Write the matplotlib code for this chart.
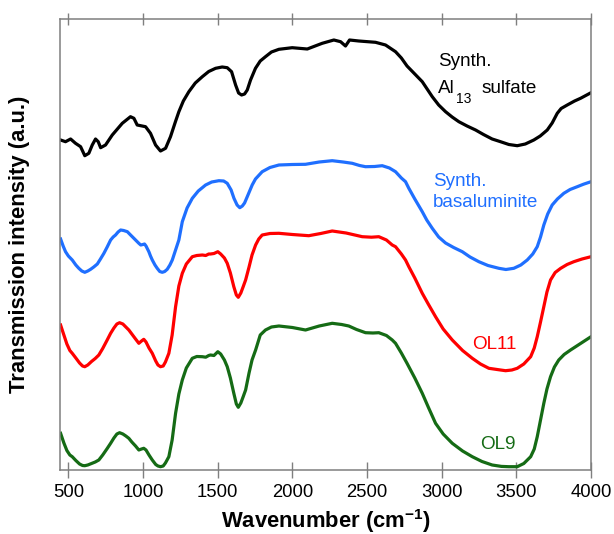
import matplotlib
matplotlib.use("Agg")
import matplotlib.pyplot as plt

plt.rcParams['font.family'] = ['Liberation Sans', 'DejaVu Sans']
plt.rcParams['mathtext.fontset'] = 'custom'
plt.rcParams['mathtext.rm'] = 'Liberation Sans'
plt.rcParams['mathtext.bf'] = 'Liberation Sans:bold'

# ---- data (wavenumber, cm-1 ; transmission, arbitrary units with offsets) ----
al13_wn = [448, 481, 515, 548, 582, 610, 637, 660, 682, 700, 716, 749, 794, 861, 916,
           939, 961, 1017, 1050, 1084, 1117, 1151, 1184, 1217, 1240, 1270, 1307, 1350,
           1397, 1440, 1486, 1530, 1564, 1593, 1620, 1640, 1660, 1680, 1698, 1720, 1753,
           1785, 1820, 1860, 1910, 1999, 2100, 2200, 2278, 2323, 2356, 2383, 2445, 2557,
           2624, 2691, 2730, 2768, 2820, 2870, 2937, 2980, 3026, 3070, 3115, 3170, 3227,
           3280, 3338, 3394, 3450, 3506, 3560, 3617, 3660, 3707, 3740, 3774, 3800, 3841,
           3890, 3930, 4000]
al13_y = [330, 328.3, 331, 326.7, 323.3, 314.3, 316.7, 325, 331, 328.3, 322.3, 325, 335,
          346.7, 353.3, 351.7, 345, 343.3, 336.7, 325, 319, 321.7, 333.3, 348.3, 358.3,
          369, 378.3, 387, 393.3, 398.5, 401.7, 403, 402.3, 398.3, 385, 377, 375, 376,
          380, 390, 401.7, 409, 413.3, 418, 420.7, 422.3, 421, 426.7, 430, 428.3, 424,
          430, 429, 427.7, 425, 418.3, 412, 404, 396, 388.3, 373.3, 365, 358.3, 353,
          348.3, 344, 340, 335.5, 331, 328.3, 325.5, 324.3, 326, 330, 334, 340, 347,
          356.7, 361.5, 365, 369, 371.7, 377.3]

basal_wn = [448, 465, 481, 500, 526, 550, 570, 590, 610, 630, 649, 670, 694, 715, 738,
            760, 783, 800, 816, 833, 850, 870, 895, 910, 928, 950, 972, 985, 999, 1010,
            1020, 1039, 1050, 1062, 1080, 1095, 1112, 1129, 1145, 1162, 1180, 1196, 1218,
            1240, 1263, 1295, 1330, 1370, 1419, 1460, 1508, 1540, 1564, 1590, 1609, 1630,
            1648, 1665, 1680, 1698, 1731, 1753, 1798, 1850, 1910, 2000, 2088, 2180, 2267,
            2340, 2401, 2450, 2490, 2550, 2602, 2650, 2691, 2730, 2758, 2780, 2820, 2870,
            2900, 2937, 2980, 3026, 3080, 3138, 3190, 3249, 3310, 3383, 3430, 3483, 3530,
            3573, 3610, 3640, 3662, 3684, 3710, 3740, 3775, 3818, 3860, 3908, 3950, 4000]
basal_y = [231, 224, 218.3, 214, 210, 205, 201.7, 199, 197.7, 199, 200.7, 203, 206, 211,
           216.7, 223, 230, 233, 235, 238, 240, 239.5, 238.3, 236, 233.3, 230, 226.7,
           225, 225.5, 226, 224, 218.3, 214, 210, 205, 201.7, 198.5, 197.7, 198.5, 200.7,
           205, 210, 220, 230, 248.3, 262, 271.7, 279, 285, 288, 289.3, 289, 286.7, 280,
           271.7, 265, 262.3, 264, 267, 273.3, 285, 291, 298.3, 302.5, 305, 305.5, 305.7,
           308, 309.3, 308, 306.7, 304.5, 303.3, 303.5, 304.3, 302, 298.3, 292, 288.3,
           281.7, 271, 258.3, 250, 241.7, 233, 227, 222.5, 218.3, 213, 208.3, 204.5,
           201.7, 200.5, 201.7, 205, 210, 216, 223.3, 233, 245, 256, 265, 271, 276.7,
           280.5, 283.3, 285.8, 288.3]

ol11_wn = [448, 470, 490, 510, 526, 550, 575, 595, 610, 630, 655, 680, 704, 730, 760, 783,
           805, 825, 843, 865, 885, 905, 925, 950, 972, 990, 1005, 1020, 1040, 1062, 1085,
           1100, 1117, 1135, 1150, 1173, 1195, 1218, 1240, 1263, 1290, 1330, 1360, 1397,
           1420, 1440, 1452, 1475, 1501, 1520, 1545, 1564, 1585, 1608, 1625, 1638, 1655,
           1670, 1687, 1710, 1730, 1754, 1775, 1798, 1850, 1910, 2000, 2110, 2190, 2267,
           2360, 2468, 2530, 2579, 2630, 2669, 2691, 2730, 2758, 2780, 2820, 2870, 2910,
           2959, 3010, 3071, 3140, 3205, 3260, 3316, 3394, 3428, 3470, 3506, 3550, 3596,
           3620, 3640, 3662, 3684, 3705, 3729, 3760, 3797, 3840, 3885, 3940, 4000]
ol11_y = [145, 135, 126, 119.5, 116.7, 112, 107, 104, 103.3, 105, 108.5, 111.5, 115, 121.5,
          130, 136.7, 142, 146, 147.3, 146, 143, 140, 136, 131, 126.7, 129, 130.7, 128, 122,
          116.7, 109, 105, 103.3, 104, 108, 116.7, 135, 163.3, 184, 196.7, 206, 213.3,
          214.5, 215, 214.5, 216, 216, 216.5, 218.3, 216, 212, 206.7, 197, 183.3, 175,
          172.7, 177, 183, 190, 203, 215, 225, 231, 235, 236.5, 236.7, 235.5, 234.3, 236.5,
          239, 237, 233.3, 232.8, 233.3, 230, 225, 223.3, 216, 210, 203.3, 192, 176.7, 166,
          153.3, 141, 130, 119.5, 111.7, 106, 101.7, 100, 99.3, 100, 101.7, 106, 113.3,
          122, 133.3, 148, 163.3, 178, 190, 197.5, 201.7, 205.5, 208.3, 211, 213.3]

ol9_wn = [448, 470, 490, 510, 526, 550, 575, 595, 610, 630, 655, 680, 704, 730, 760, 783,
          805, 825, 843, 865, 885, 905, 925, 950, 972, 990, 1005, 1020, 1040, 1062, 1085,
          1100, 1117, 1135, 1150, 1173, 1195, 1218, 1240, 1263, 1290, 1330, 1360, 1397,
          1420, 1440, 1452, 1475, 1501, 1520, 1545, 1564, 1585, 1608, 1625, 1638, 1655,
          1670, 1687, 1710, 1730, 1754, 1785, 1820, 1860, 1910, 2000, 2088, 2180, 2267,
          2330, 2378, 2430, 2490, 2540, 2579, 2630, 2669, 2691, 2730, 2768, 2820, 2870,
          2910, 2959, 3010, 3071, 3140, 3205, 3270, 3338, 3400, 3450, 3506, 3550, 3596,
          3620, 3640, 3662, 3684, 3705, 3729, 3755, 3784, 3820, 3863, 3930, 4000]
ol9_y = [36.7, 27, 19.5, 15, 13.3, 9.5, 6, 4.5, 4.3, 5, 6.5, 8, 10, 15, 21.5, 26.7, 32, 36,
         37.3, 36, 34, 31.7, 28, 24, 20, 21, 21.7, 20, 15, 10, 5.5, 4, 3.3, 4, 7, 13.3, 30,
         56.7, 76, 90, 102, 111.7, 113.5, 113.3, 112.8, 114.5, 115, 114.5, 118.3, 116, 110,
         103.3, 92, 76.7, 66, 62.7, 67, 73, 80, 97, 110, 120, 135, 140, 143, 144, 142.5,
         140, 144, 146.7, 145.5, 144, 140.5, 137.3, 137, 137.3, 134.5, 130, 126.7, 117,
         106.7, 92, 76.7, 63, 46.7, 36, 26.7, 19, 13.3, 8.5, 5, 3.6, 3.3, 3.3, 6.5, 13.3,
         21, 33.3, 50, 66.7, 81, 93.3, 103, 110, 115.5, 120, 126.5, 133.3]

x_ticks = [500, 1000, 1500, 2000, 2500, 3000, 3500, 4000]

fig = plt.figure(figsize=(6.14, 5.34), dpi=100)
ax = fig.add_axes([60 / 614, 1 - 470 / 534, (591 - 60) / 614, (470 - 19) / 534])

lw = 2.3
ax.plot(al13_wn, al13_y, color='black', lw=lw, solid_joinstyle='round')
ax.plot(basal_wn, basal_y, color='#1f6fff', lw=lw, solid_joinstyle='round')
ax.plot(ol11_wn, ol11_y, color='#ff0000', lw=lw, solid_joinstyle='round')
ax.plot(ol9_wn, ol9_y, color='#156b15', lw=lw, solid_joinstyle='round')

ax.set_xlim(444, 4000)
ax.set_ylim(0, 451)
ax.set_xticks(x_ticks)
ax.set_yticks([])

for s in ax.spines.values():
    s.set_color('#7f7f7f')
    s.set_linewidth(1.1)

ax.tick_params(axis='x', which='major', direction='inout', length=11.5, width=1.0,
               color='#7f7f7f', labelsize=13.3, pad=4, top=True)
for t in ax.xaxis.get_major_ticks():
    t.tick2line.set_markersize(8.5)

ax.set_xlabel(r'Wavenumber (cm$^{\mathbf{-1}}$)', fontsize=15.8, fontweight='bold', labelpad=5)
fig.text(20 / 614, 1 - 244 / 534, 'Transmission intensity (a.u.)', rotation=90,
         fontsize=15.8, fontweight='bold', ha='center', va='center')

fs = 13.6
ax.text(2977, 404, 'Synth.', fontsize=fs, color='black', ha='left', va='baseline')
ax.text(2977, 377, 'Al', fontsize=fs, color='black', ha='left', va='baseline')
ax.text(3099, 367, '13', fontsize=10, color='black', ha='left', va='baseline')
ax.text(3267, 377, 'sulfate', fontsize=fs, color='black', ha='left', va='baseline')
ax.text(2943, 284, 'Synth.', fontsize=fs, color='#1f6fff', ha='left', va='baseline')
ax.text(2943, 263, 'basaluminite', fontsize=fs, color='#1f6fff', ha='left', va='baseline')
ax.text(3207, 121, 'OL11', fontsize=fs, color='#ff0000', ha='left', va='baseline')
ax.text(3260, 21, 'OL9', fontsize=fs, color='#156b15', ha='left', va='baseline')

fig.savefig('out.png', dpi=100)
